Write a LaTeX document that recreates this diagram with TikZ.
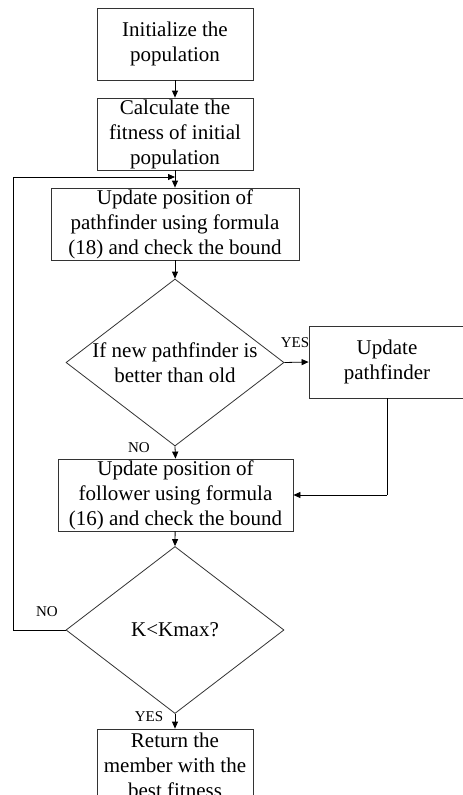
\documentclass[tikz,border=0pt]{standalone}
\usepackage{fontspec}
\setmainfont{Liberation Serif}
\usetikzlibrary{shapes.geometric,arrows.meta}
\begin{document}
\begin{tikzpicture}[x=1pt,y=-1pt,
  box/.style={draw=black!80, line width=0.8pt, minimum height=72pt, inner sep=0pt, align=center, font=\fontsize{21}{25}\selectfont},
  dec/.style={draw=black!80, diamond, line width=0.8pt, minimum width=218pt, minimum height=167pt, inner sep=0pt},
  dtext/.style={inner sep=0pt, align=center, font=\fontsize{21}{25}\selectfont},
  arr/.style={-{Triangle[length=7pt,width=6pt]}, line width=0.8pt},
  lbl/.style={font=\fontsize{15}{17}\selectfont, inner sep=0pt}]
\useasboundingbox (0,0) rectangle (463,795);
\clip (0,0) rectangle (463,795);
\fill[white] (0,0) rectangle (463,795);

\node[box, minimum width=156pt] (b1) at (175,44) {Initialize the\\population};
\node[box, minimum width=156pt] (b2) at (175,134) {Calculate the\\fitness of initial\\population};
\node[box, minimum width=248pt] (b3) at (175,224) {Update position of\\pathfinder using formula\\(18) and check the bound};
\node[dec] (d1) at (175,362.5) {};
\node[dtext] (t1) at (d1.center) {If new pathfinder is\\better than old};
\node[box, minimum width=156pt] (b6) at (387,362) {Update\\pathfinder};
\node[box, minimum width=235pt] (b4) at (175.5,495) {Update position of\\follower using formula\\(16) and check the bound};
\node[dec] (d2) at (175,630) {};
\node[dtext] (t2) at (d2.center) {K<Kmax?};
\node[box, minimum width=156pt] (b5) at (175,765) {Return the\\member with the\\best fitness};

\coordinate (j) at (175,177);
\coordinate (c1) at (13,630);
\coordinate (c2) at (13,177);
\coordinate (c3) at (387,495);

\draw[arr] (b1) -- (b2);
\draw[arr] (b2) -- (b3);
\draw[arr] (b3) -- (d1.north);
\draw[arr] (d1.east) -- (b6.west);
\draw[arr] (d1.south) -- (b4.north);
\draw[line width=0.8pt] (b6.south -| c3) -- (c3);
\draw[arr] (c3) -- (b4.east |- c3);
\draw[arr] (b4) -- (d2.north);
\draw[arr] (d2.south) -- (b5.north);
\draw[arr] (d2.west) -- (c1) -- (c2) -- (j);

\node[lbl] (yes1) at (295,343) {YES};
\node[lbl] (no1) at (139,448) {NO};
\node[lbl] (no2) at (47,612) {NO};
\node[lbl] (yes2) at (149,717) {YES};
\end{tikzpicture}
\end{document}
